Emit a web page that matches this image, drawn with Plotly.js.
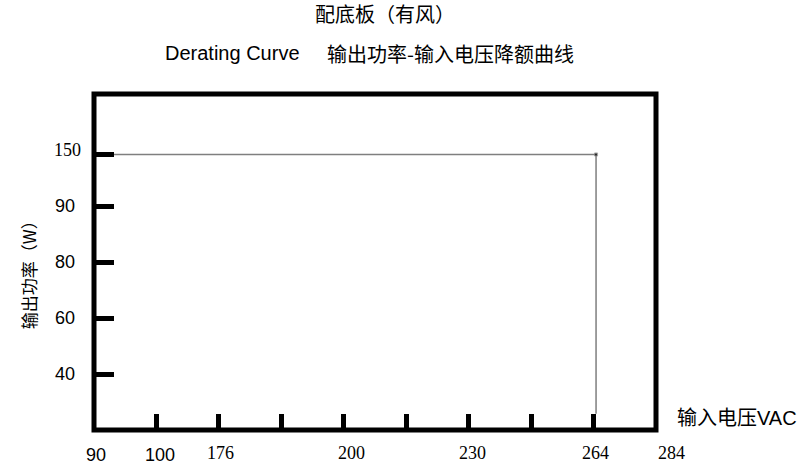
<!DOCTYPE html>
<html>
<head>
<meta charset="utf-8">
<script src="https://cdn.plot.ly/plotly-3.0.1.min.js"></script>
<style>html,body{margin:0;padding:0;background:#fff;}#chart{width:799px;height:466px;}</style>
</head>
<body>
<div id="chart"></div>
<script>
// Axis positions are in "grid units" (the chart's ticks are evenly spaced, labels are not)
const X_MAX = 9;
const xTickUnits = [1, 2, 3, 4, 5, 6, 7, 8];
const xLabels = ['90', '100', '176', '200', '230', '264', '284'];
const xLabelUnits = [0.03, 1.06, 2.03, 4.13, 6.06, 8.03, 9.25];
const xLabelSerif = [false, false, true, true, true, true, true];

const yTickUnits = [1, 2, 3, 4, 4.92];
const yLabels = ['40', '60', '80', '90', '150'];
const yLabelUnits = [1, 2, 3, 4, 5.0];
const yLabelSerif = [false, false, false, false, true];

// Derating curve (grid units): flat 150 W, then drop at 264 VAC
const curveX = [0.32, 8.04, 8.04];
const curveY = [4.92, 4.92, 0.29];

const SANS = 'Liberation Sans, Arial, Noto Sans CJK SC';
const SERIF = 'Liberation Serif, Times New Roman, serif';
const CJK = 'Noto Sans CJK SC';

const annotations = [];
xLabels.forEach((t, i) => {
  annotations.push({
    text: t, x: xLabelUnits[i] / X_MAX, xref: 'paper', y: xLabelSerif[i] ? -0.068 : -0.0744, yref: 'paper',
    xanchor: 'center', yanchor: 'middle', showarrow: false,
    font: {family: xLabelSerif[i] ? SERIF : SANS, size: 18, color: '#000'}
  });
});
yLabels.forEach((t, i) => {
  annotations.push({
    text: t, x: 0, xref: 'paper', xshift: yLabelSerif[i] ? -11 : -17, y: yLabelUnits[i], yref: 'y',
    xanchor: 'right', yanchor: 'middle', showarrow: false,
    font: {family: yLabelSerif[i] ? SERIF : SANS, size: 18, color: '#000'}
  });
});
annotations.push(
  {text: 'Derating Curve', x: 0.1227, xref: 'paper', y: 1.122, yref: 'paper', xanchor: 'left', yanchor: 'middle',
   showarrow: false, font: {family: SANS, size: 20, color: '#000'}},
  {text: '输出功率-输入电压降额曲线', x: 0.4107, xref: 'paper', y: 1.122, yref: 'paper', xanchor: 'left', yanchor: 'middle',
   showarrow: false, font: {family: CJK, size: 20, color: '#000'}},
  {text: '输入电压VAC', x: 1.033, xref: 'paper', y: 0.0357, yref: 'paper', xanchor: 'left', yanchor: 'middle',
   showarrow: false, font: {family: SANS, size: 20, color: '#000'}},
  {text: '输出功率（W）', x: -0.1173, xref: 'paper', y: 0.473, yref: 'paper', xanchor: 'center', yanchor: 'middle',
   textangle: -90, showarrow: false, font: {family: CJK, size: 17, color: '#000'}}
);

const data = [{
  x: curveX, y: curveY, type: 'scatter', mode: 'lines+markers',
  line: {color: '#7f7f7f', width: 1.5},
  marker: {color: '#000', size: [0, 3, 0], symbol: 'square'},
  hoverinfo: 'skip', showlegend: false
}];

const layout = {
  width: 799, height: 466,
  margin: {l: 94, r: 142.5, t: 94, b: 36, pad: 0},
  paper_bgcolor: '#fff', plot_bgcolor: '#fff',
  title: {text: '配底板（有风）', x: 385 / 799, xanchor: 'center', xref: 'container',
          y: 1 - 15 / 466, yanchor: 'middle', yref: 'container',
          font: {family: CJK, size: 20, color: '#000'}},
  xaxis: {range: [0, X_MAX], tickmode: 'array', tickvals: xTickUnits, ticks: 'inside', ticklen: 16, tickwidth: 5,
          tickcolor: '#000', showticklabels: false, showgrid: false, zeroline: false, showline: false, fixedrange: true},
  yaxis: {range: [0, 6], tickmode: 'array', tickvals: yTickUnits, ticks: 'inside', ticklen: 20, tickwidth: 5,
          tickcolor: '#000', showticklabels: false, showgrid: false, zeroline: false, showline: false, fixedrange: true},
  shapes: [{type: 'rect', xref: 'paper', yref: 'paper', x0: 0, x1: 1, y0: 0, y1: 1,
            line: {color: '#000', width: 5}, layer: 'above'}],
  annotations: annotations
};

Plotly.newPlot('chart', data, layout, {staticPlot: true, displayModeBar: false});
</script>
</body>
</html>
